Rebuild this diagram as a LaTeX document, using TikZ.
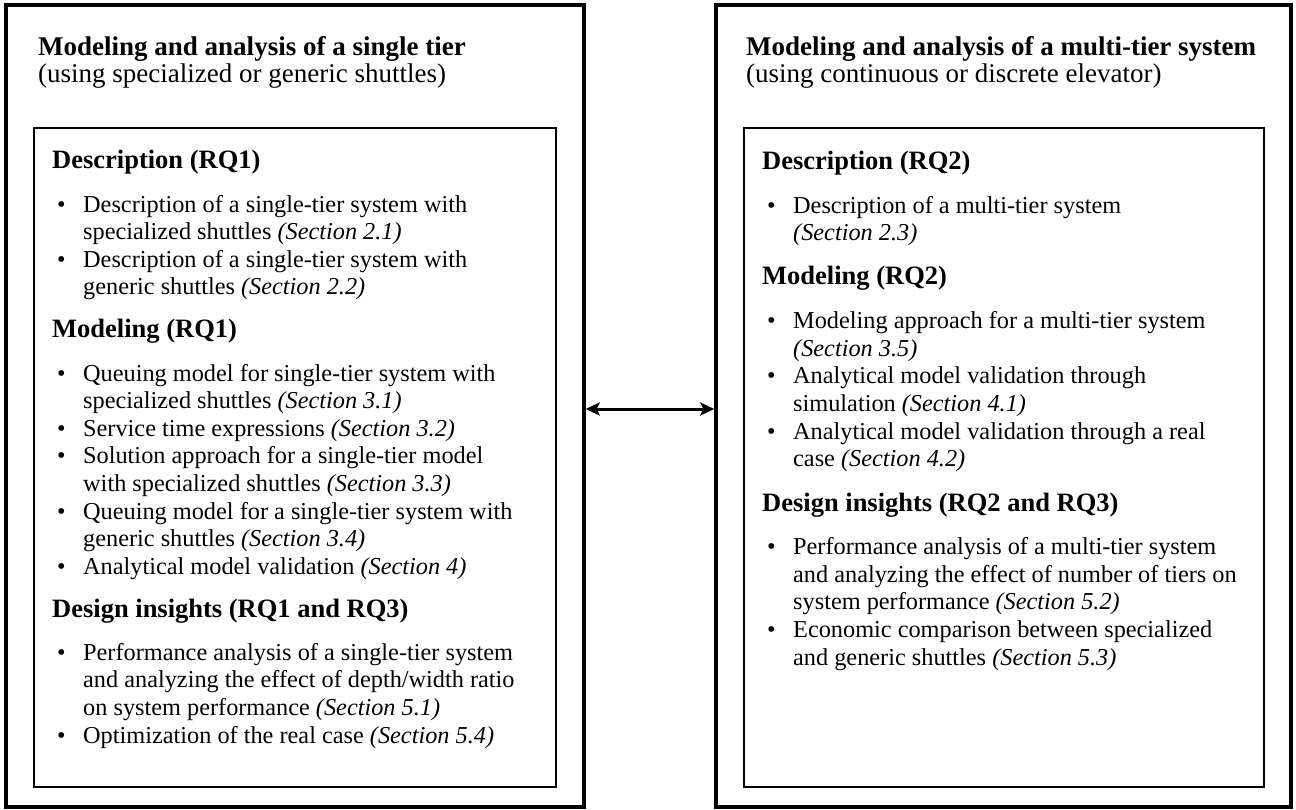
\documentclass[tikz,border=0pt]{standalone}
\usepackage{fontspec}
\setmainfont{Liberation Serif}
\usetikzlibrary{arrows.meta,positioning}

\newcommand{\bul}{\strut\makebox[26pt][l]{\textbullet}}
\newcommand{\ind}{\hspace*{26pt}}
\newcommand{\sect}[1]{\textit{(Section #1)}}

\begin{document}
\begin{tikzpicture}[x=1pt,y=-1pt,
  outer/.style={draw,line width=3.5pt,inner sep=0pt},
  inner/.style={draw,line width=1.7pt,inner sep=0pt},
  ttl/.style={anchor=north west,yshift=18.9pt,inner sep=0pt,align=left,font=\fontsize{27}{27}\selectfont},
  hd/.style={anchor=base west,inner sep=0pt,font=\fontsize{26.5}{30}\selectfont\bfseries},
  items/.style={anchor=north west,yshift=19.32pt,inner sep=0pt,align=left,font=\fontsize{24.3}{27.6}\selectfont},
]
\useasboundingbox (0,0) rectangle (1296,810);

% frames
\node[outer,minimum width=578pt,minimum height=802pt] (outL) at (295,406) {};
\node[outer,minimum width=575pt,minimum height=802pt] (outR) at (1003.5,406) {};
\node[inner,minimum width=522pt,minimum height=659pt] (inL) at (295,457.5) {};
\node[inner,minimum width=520pt,minimum height=659pt] (inR) at (1004,457.5) {};

% single tier
\node[ttl] (ttlL) at (38,55) {\strut\textbf{Modeling and analysis of a single tier}\\(using specialized or generic shuttles)};
\node[hd] (descL) at (52,169) {Description (RQ1)};
\node[items] (descItL) at (57,212) {\bul Description of a single-tier system with\\
  \ind specialized shuttles \sect{2.1}\\
  \bul Description of a single-tier system with\\
  \ind generic shuttles \sect{2.2}};
\node[hd] (modL) at (52,337.8) {Modeling (RQ1)};
\node[items] (modItL) at (57,380.8) {\bul Queuing model for single-tier system with\\
  \ind specialized shuttles \sect{3.1}\\
  \bul Service time expressions \sect{3.2}\\
  \bul Solution approach for a single-tier model\\
  \ind with specialized shuttles \sect{3.3}\\
  \bul Queuing model for a single-tier system with\\
  \ind generic shuttles \sect{3.4}\\
  \bul Analytical model validation \sect{4}};
\node[hd] (insL) at (52,617) {Design insights (RQ1 and RQ3)};
\node[items] (insItL) at (57,660) {\bul Performance analysis of a single-tier system\\
  \ind and analyzing the effect of depth/width ratio\\
  \ind on system performance \sect{5.1}\\
  \bul Optimization of the real case \sect{5.4}};

% multi tier
\node[ttl] (ttlR) at (746,55) {\strut\textbf{Modeling and analysis of a multi-tier system}\\(using continuous or discrete elevator)};
\node[hd] (descR) at (762,170) {Description (RQ2)};
\node[items] (descItR) at (767,213) {\bul Description of a multi-tier system\\
  \ind \sect{2.3}};
\node[hd] (modR) at (762,285) {Modeling (RQ2)};
\node[items] (modItR) at (767,328.5) {\bul Modeling approach for a multi-tier system\\
  \ind \sect{3.5}\\
  \bul Analytical model validation through\\
  \ind simulation \sect{4.1}\\
  \bul Analytical model validation through a real\\
  \ind case \sect{4.2}};
\node[hd] (insR) at (762,511) {Design insights (RQ2 and RQ3)};
\node[items] (insItR) at (767,554.5) {\bul Performance analysis of a multi-tier system\\
  \ind and analyzing the effect of number of tiers on\\
  \ind system performance \sect{5.2}\\
  \bul Economic comparison between specialized\\
  \ind and generic shuttles \sect{5.3}};

\draw[{Stealth[length=14pt,width=13pt,inset=3pt]}-{Stealth[length=14pt,width=13pt,inset=3pt]},line width=3pt]
  ([yshift=-3pt]outL.east) -- ([yshift=-3pt]outR.west);
\end{tikzpicture}
\end{document}
